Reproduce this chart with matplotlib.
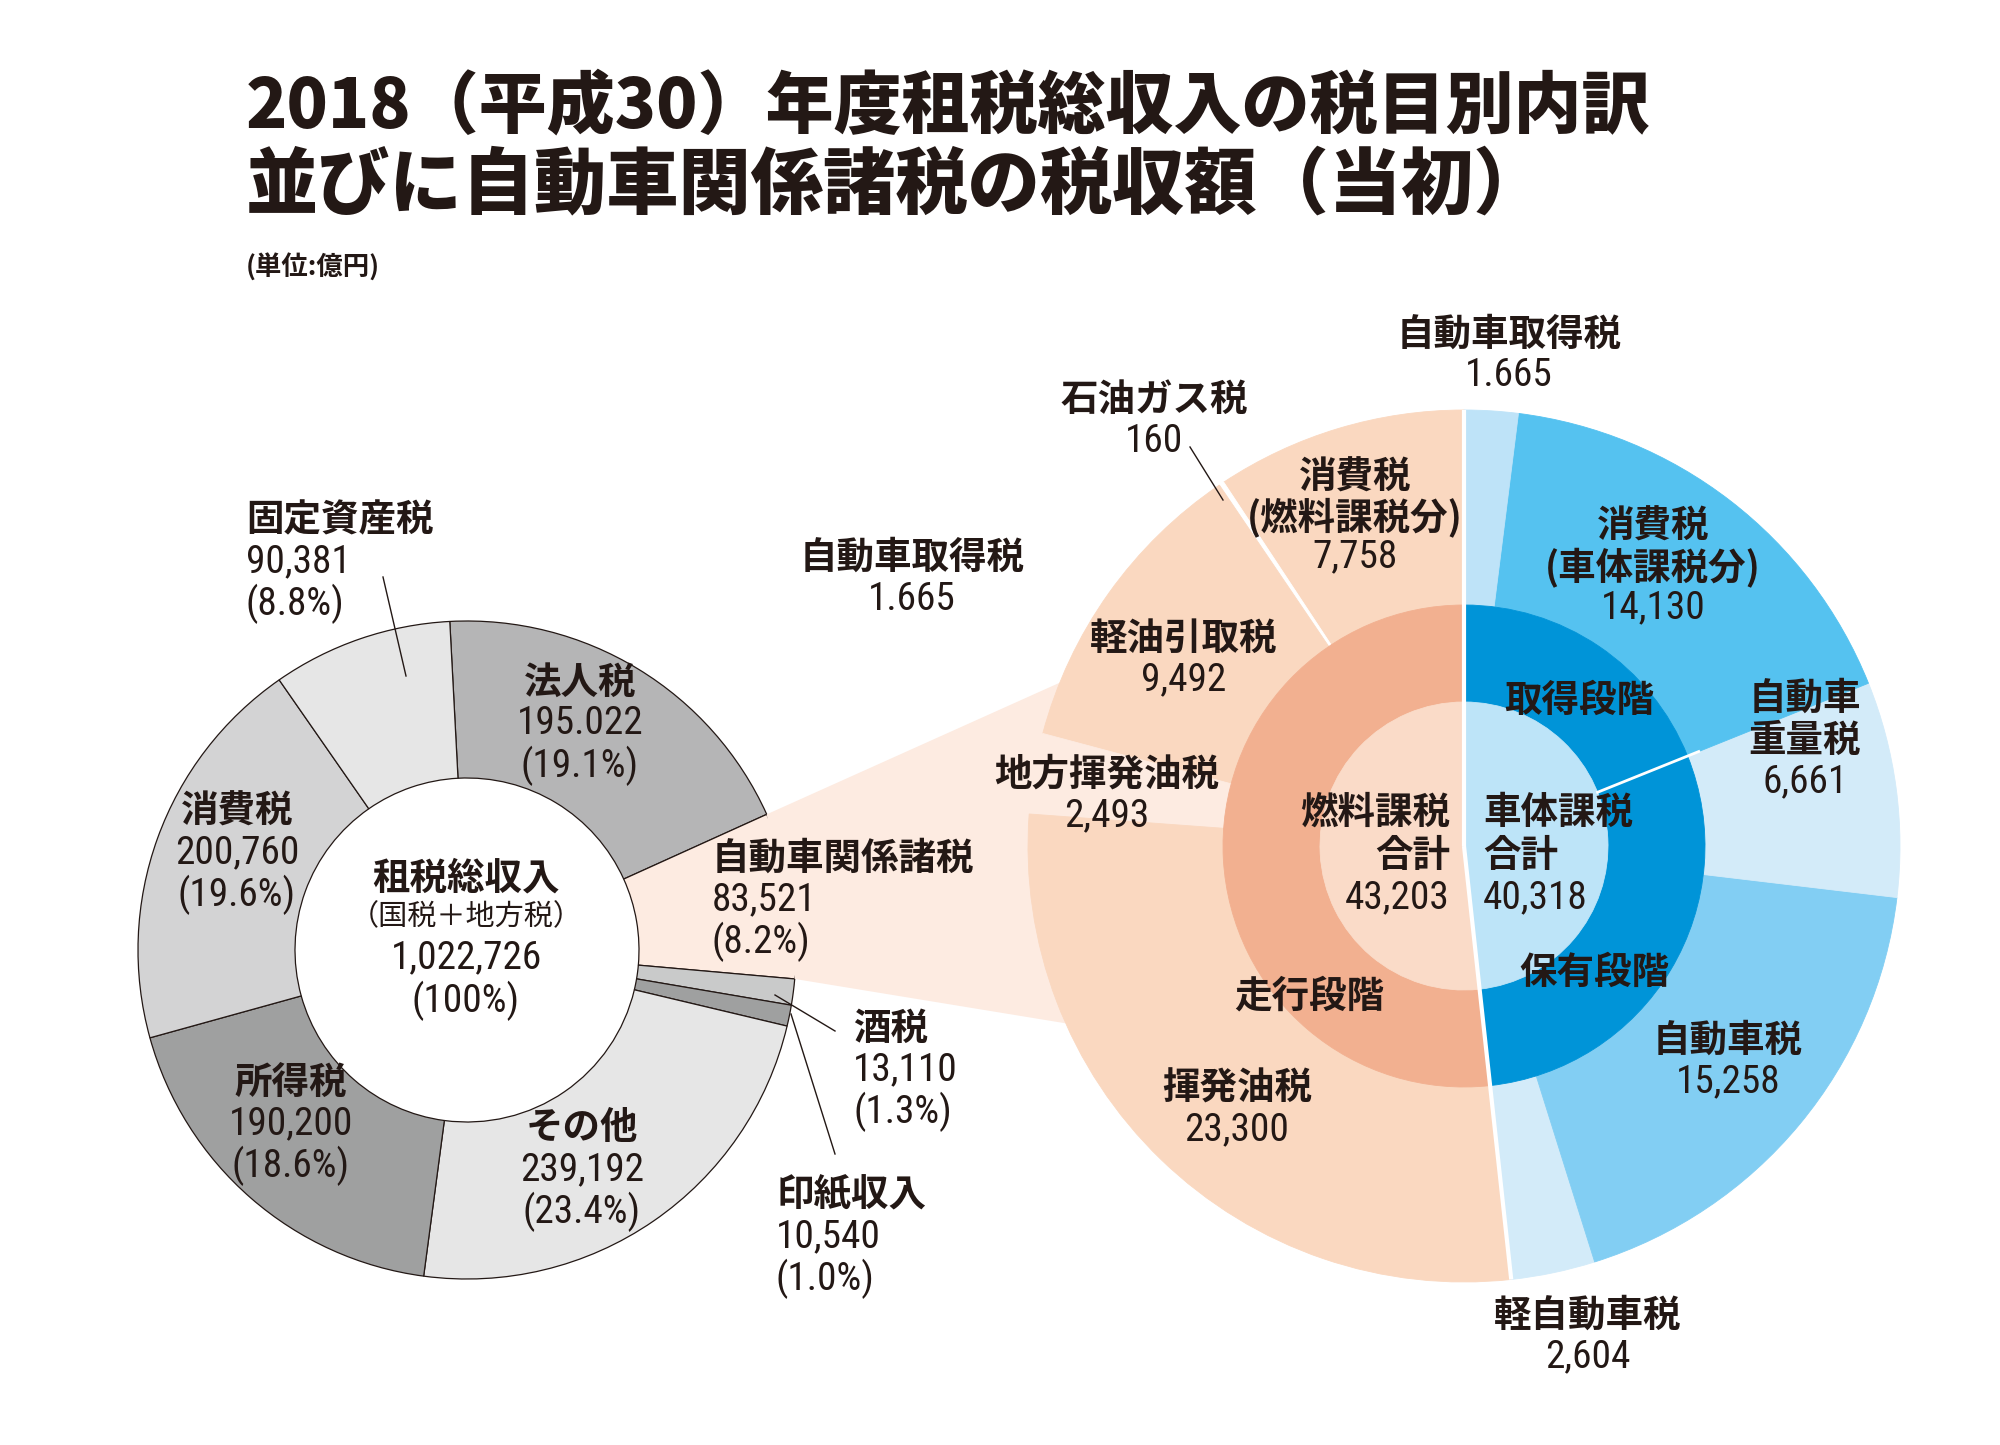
import numpy as np
import matplotlib.pyplot as plt
from matplotlib.patches import Polygon
from matplotlib import font_manager as fm
from matplotlib.textpath import TextPath

plt.rcParams['font.family'] = ['Noto Sans CJK JP', 'DejaVu Sans']
INK = '#231815'

# condensed numerals if the machine has a narrow face, else plain Liberation Sans
_fonts = fm.fontManager.ttflist
_names = {f.name for f in _fonts}
NUM_FAMILY, NUM_STRETCH = ['Liberation Sans', 'DejaVu Sans'], 'normal'
for fam in ['Liberation Sans Narrow', 'Roboto Condensed', 'Arial Narrow']:
    if fam in _names:
        NUM_FAMILY = [fam, 'DejaVu Sans']
        break
else:
    if any(f.name == 'Noto Sans' and f.stretch in ('condensed', 'semi-condensed') for f in _fonts):
        NUM_FAMILY, NUM_STRETCH = ['Noto Sans', 'DejaVu Sans'], 'condensed'

# size the numerals so "90,381" inks about 98 x 28 px, as in the print
_prop = fm.FontProperties(family=NUM_FAMILY, stretch=NUM_STRETCH)
_ext = TextPath((0, 0), '90,381', size=100, prop=_prop).get_extents()
_dig = TextPath((0, 0), '0', size=100, prop=_prop).get_extents()
_px = 0.5 * (98 / _ext.width * 100 + 28 / _dig.height * 100)
NUM_SIZE = _px * 72 / 100

W, H = 2000, 1445

# ---- left donut: 租税総収入 (億円), clockwise from the top
total_names = ['法人税', '自動車関係諸税', '酒税', '印紙収入', 'その他', '所得税', '消費税', '固定資産税']
total_values = [195022, 83521, 13110, 10540, 239192, 190200, 200760, 90381]
total_pcts = [19.1, 8.2, 1.3, 1.0, 23.4, 18.6, 19.6, 8.8]
total_colors = ['#b5b5b6', '#fdebe1', '#c9caca', '#9fa0a0', '#e6e6e6', '#9fa0a0', '#d3d3d4', '#e6e6e6']

# ---- right pie: 自動車関係諸税, counterclockwise from the top
outer_names = ['消費税(燃料課税分)', '石油ガス税', '軽油引取税', '地方揮発油税', '揮発油税',
               '軽自動車税', '自動車税', '自動車重量税', '消費税(車体課税分)', '自動車取得税']
outer_values = [7758, 160, 9492, 2493, 23300, 2604, 15258, 6661, 14130, 1665]
outer_colors = ['#fad8c0', '#ffffff', '#fad8c0', '#fdebe1', '#fad8c0',
                '#d3ebf9', '#82cef3', '#d3ebf9', '#55c2f0', '#bee3f8']

mid_names = ['走行段階', '保有段階', '取得段階']
mid_values = [43203, 24523, 15795]
mid_colors = ['#f2b090', '#0094d8', '#0094d8']

inner_names = ['燃料課税合計', '車体課税合計']
inner_values = [43203, 40318]
inner_colors = ['#fadbc8', '#bde4f8']

# numbers printed with a dot in the source
shown_as = {'法人税': '195.022', '自動車取得税': '1.665'}


def num(name, v):
    return shown_as.get(name, f'{v:,}')


fig = plt.figure(figsize=(20, 14.45), dpi=100)
ax = fig.add_axes([0, 0, 1, 1])

# geometry (pixels)
LX, LY, LR, LW = 467, H - 950, 329, 157
L_START = 93
RX, RY = 1464, H - 846
R_OUT, R_MID, R_IN = 436, 241, 144
FAN_ANG = (158, 204)

# left donut
lw, _ = ax.pie(total_values, center=(LX, LY), radius=LR, startangle=L_START,
               counterclock=False, colors=total_colors,
               wedgeprops=dict(width=LW, edgecolor=INK, linewidth=0.9, zorder=1))

# fan from the 自動車関係諸税 slice to the right pie
cum = np.cumsum([0] + total_values) / sum(total_values) * 360
a1 = np.radians(L_START - cum[1])
a2 = np.radians(L_START - cum[2])
f1 = np.radians(FAN_ANG[0])
f2 = np.radians(FAN_ANG[1])
fan = Polygon([(LX + LR * np.cos(a1), LY + LR * np.sin(a1)),
               (RX + R_OUT * np.cos(f1), RY + R_OUT * np.sin(f1)),
               (RX + R_OUT * np.cos(f2), RY + R_OUT * np.sin(f2)),
               (LX + LR * np.cos(a2), LY + LR * np.sin(a2))],
              closed=True, facecolor='#fdebe1', edgecolor='none', zorder=1.5)
ax.add_patch(fan)

# right pie rings
for vals, cols, r, w in [(outer_values, outer_colors, R_OUT, R_OUT - R_MID),
                         (mid_values, mid_colors, R_MID, R_MID - R_IN),
                         (inner_values, inner_colors, R_IN, R_IN)]:
    wed, _ = ax.pie(vals, center=(RX, RY), radius=r, startangle=90, counterclock=True,
                    colors=cols, wedgeprops=dict(width=w, linewidth=0.6, zorder=2))
    for wd in wed:
        wd.set_edgecolor(wd.get_facecolor())

# white dividers
fuel_end = np.radians(90 + 360 * inner_values[0] / sum(inner_values))
for ang in [np.radians(90), fuel_end]:
    ax.plot([RX, RX + R_OUT * np.cos(ang)], [RY, RY + R_OUT * np.sin(ang)],
            color='white', lw=3, zorder=2.5, solid_capstyle='butt')
stage = np.radians(90 - 360 * mid_values[2] / sum(mid_values))
ax.plot([RX + R_IN * np.cos(stage), RX + (R_MID + 12) * np.cos(stage)],
        [RY + R_IN * np.sin(stage), RY + (R_MID + 12) * np.sin(stage)],
        color='white', lw=2, zorder=2.5)

ax.set_xlim(0, W)
ax.set_ylim(0, H)
ax.set_aspect('equal')
ax.axis('off')


def t(x, y, s, size=27, weight='bold', ha='center'):
    ax.text(x, H - y, s, fontsize=size, fontweight=weight, ha=ha, va='center',
            color=INK, zorder=4)


def n(x, y, s, ha='center'):
    ax.text(x, H - y, s, fontsize=NUM_SIZE, family=NUM_FAMILY, fontstretch=NUM_STRETCH,
            ha=ha, va='center', color=INK, zorder=4)


def label(x, y, names, numbers, ha='center', step=42):
    k = 0
    for s in names:
        t(x, y + k * step, s, ha=ha)
        k += 1
    for s in numbers:
        n(x, y + k * step, s, ha=ha)
        k += 1


def lead(x0, y0, x1, y1):
    ax.plot([x0, x1], [H - y0, H - y1], color=INK, lw=1, zorder=3)


# title
t(246, 107, '2018（平成30）年度租税総収入の税目別内訳', size=49, weight='heavy', ha='left')
t(246, 186, '並びに自動車関係諸税の税収額（当初）', size=52, weight='heavy', ha='left')
t(246, 268, '(単位:億円)', size=19, ha='left')

# left donut labels
tv = dict(zip(total_names, total_values))
tp_ = dict(zip(total_names, total_pcts))


def tl(name, x, y, ha='center'):
    label(x, y, [name], [num(name, tv[name]), f'({tp_[name]}%)'], ha=ha)


tl('固定資産税', 246, 520, ha='left')
tl('法人税', 580, 682)
tl('消費税', 237, 811)
tl('所得税', 291, 1082)
tl('その他', 582, 1128)
tl('自動車関係諸税', 712, 858, ha='left')
tl('酒税', 853, 1028, ha='left')
tl('印紙収入', 776, 1195, ha='left')
lead(383, 577, 406, 676)
lead(775, 995, 835, 1031)
lead(791, 1014, 835, 1154)

t(466, 878, '租税総収入')
t(466, 917, '（国税＋地方税）', size=21, weight='normal')
n(466, 958, f'{sum(total_values):,}')
n(466, 1001, '(100%)')

# right pie labels
ov = dict(zip(outer_names, outer_values))
label(1509, 334, ['自動車取得税'], [num('自動車取得税', ov['自動車取得税'])])
label(912, 557, ['自動車取得税'], [num('自動車取得税', ov['自動車取得税'])])
label(1154, 399, ['石油ガス税'], [f"{ov['石油ガス税']:,}"])
lead(1190, 447, 1223, 500)
label(1355, 477, ['消費税', '(燃料課税分)'], [f"{ov['消費税(燃料課税分)']:,}"], step=40)
label(1184, 638, ['軽油引取税'], [f"{ov['軽油引取税']:,}"])
label(1107, 774, ['地方揮発油税'], [f"{ov['地方揮発油税']:,}"])
label(1237, 1088, ['揮発油税'], [f"{ov['揮発油税']:,}"])
label(1653, 526, ['消費税', '(車体課税分)'], [f"{ov['消費税(車体課税分)']:,}"], step=41)
label(1805, 698, ['自動車', '重量税'], [f"{ov['自動車重量税']:,}"])
label(1728, 1040, ['自動車税'], [f"{ov['自動車税']:,}"])
label(1588, 1315, ['軽自動車税'], [f"{ov['軽自動車税']:,}"])

label(1450, 812, ['燃料課税', '合計'], [f'{inner_values[0]:,}'], ha='right', step=43)
label(1483, 812, ['車体課税', '合計'], [f'{inner_values[1]:,}'], ha='left', step=43)
t(1309, 996, mid_names[0])
t(1594, 972, mid_names[1])
t(1579, 700, mid_names[2])

fig.savefig('out.png', dpi=100, facecolor='white')
